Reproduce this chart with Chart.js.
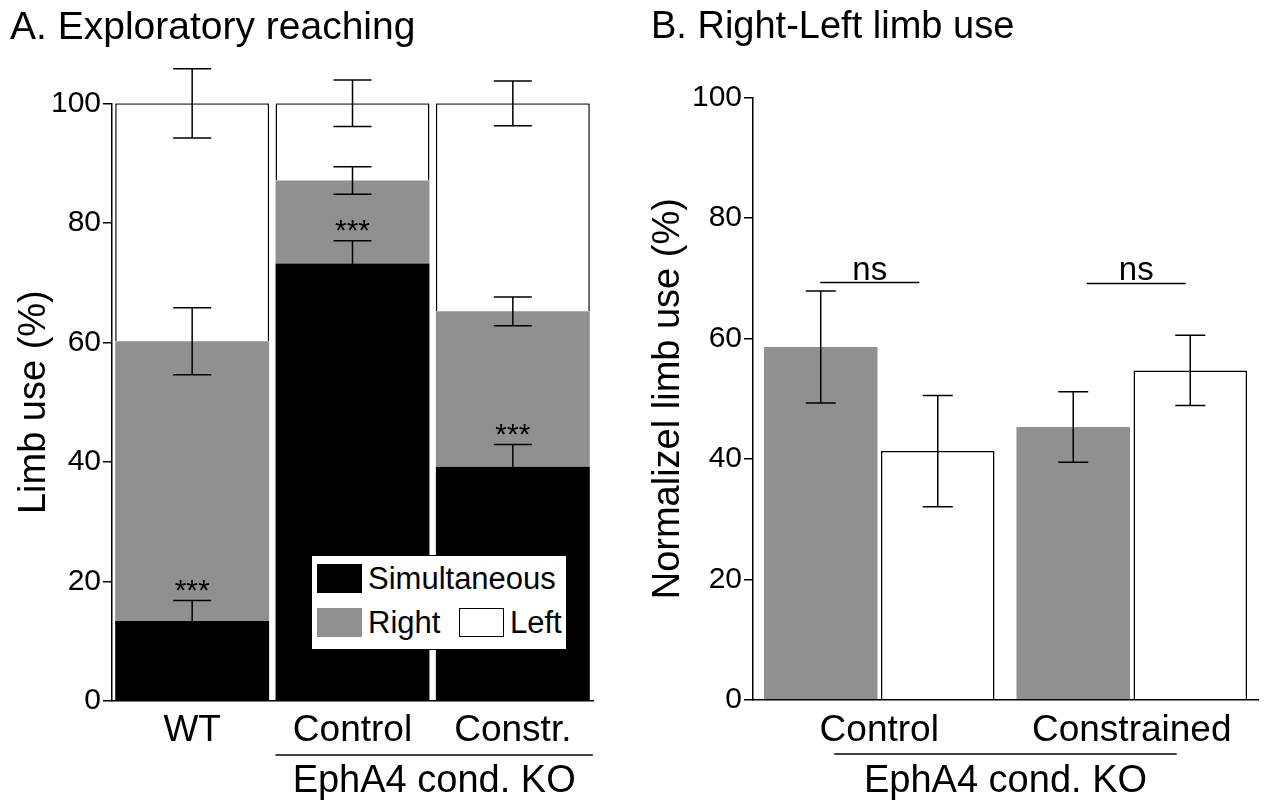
<!DOCTYPE html>
<html>
<head>
<meta charset="utf-8">
<script src="https://cdn.jsdelivr.net/npm/chart.js@4.4.1/dist/chart.umd.min.js"></script>
<style>
  body { margin: 0; background: #fff; }
  #wrap { position: relative; width: 1265px; height: 803px; }
  canvas { position: absolute; top: 0; }
  #chartA { left: 0; }
  #chartB { left: 630px; }
  #legendA {
    position: absolute; left: 311px; top: 555px; width: 254px; height: 93px;
    border: 1.5px solid #000; background: #fff;
    font-family: 'Liberation Sans', Arial, sans-serif; font-size: 31px; color: #000;
  }
  #legendA .item { position: absolute; height: 29px; line-height: 29px; white-space: nowrap; }
  #legendA .sw { position: absolute; left: 0; top: 0; width: 45px; height: 29px; box-sizing: border-box; }
  #legendA .lab { position: absolute; left: 51px; top: 0; }
</style>
</head>
<body>
<div id="wrap">
  <canvas id="chartA" width="630" height="803"></canvas>
  <canvas id="chartB" width="635" height="803"></canvas>
  <div id="legendA"></div>
</div>
<script>
// panel A - exploratory reaching (stacked %)
const groupsA = ['WT', 'Control', 'Constr.']
const simultaneous = [13.4, 73.2, 39.2]
const rightA = [46.8, 13.9, 26.0]
const leftA = [39.8, 12.9, 34.8]
const simErr = [3.4, 3.8, 3.7]
const rightErrA = [5.6, 2.3, 2.4]
const leftErrA = [5.8, 3.9, 3.75]
const starsA = ['***', '***', '***']

// panel B - normalized right/left use
const groupsB = ['Control', 'Constrained']
const rightB = [58.6, 45.3]
const leftB = [41.3, 54.7]
const rightErrB = [9.3, 5.85]
const leftErrB = [9.25, 5.85]
const nsLevel = [69.3, 69.15]

const FONT = "'Liberation Sans', Arial, sans-serif"
const GREY = '#909090'

Chart.defaults.font.family = FONT
Chart.defaults.color = '#000'

// error bars + stars on top of each bar
const errorBars = {
    id: 'errorBars',
    afterDatasetsDraw(chart, args, opts) {
        const ctx = chart.ctx
        const y = chart.scales.y
        const stacked = !!chart.options.scales.y.stacked
        chart.data.datasets.forEach((ds, i) => {
            if (!ds.errors) return
            const meta = chart.getDatasetMeta(i)
            meta.data.forEach((el, j) => {
                let top = ds.data[j]
                if (stacked) {
                    top = 0
                    for (let k = 0; k <= i; k++) top += chart.data.datasets[k].data[j]
                }
                const e = ds.errors[j]
                const yHi = y.getPixelForValue(top + e)
                const yLo = y.getPixelForValue(top - e)
                const half = opts.capWidth / 2
                ctx.save()
                ctx.strokeStyle = '#000'
                ctx.lineWidth = 1.5
                ctx.beginPath()
                ctx.moveTo(el.x, yHi); ctx.lineTo(el.x, yLo)
                ctx.moveTo(el.x - half, yHi); ctx.lineTo(el.x + half, yHi)
                ctx.moveTo(el.x - half, yLo); ctx.lineTo(el.x + half, yLo)
                ctx.stroke()
                if (ds.stars && ds.stars[j]) {
                    ctx.fillStyle = '#000'
                    ctx.font = '30px ' + FONT
                    ctx.textAlign = 'center'
                    ctx.textBaseline = 'alphabetic'
                    ctx.fillText(ds.stars[j], el.x, yHi - 1)
                }
                ctx.restore()
            })
        })
    }
}

// group line under the x labels + "ns" marks
const annotations = {
    id: 'annotations',
    afterDraw(chart, args, opts) {
        const ctx = chart.ctx
        const x = chart.scales.x
        const y = chart.scales.y
        ctx.save()
        ctx.strokeStyle = '#000'
        ctx.fillStyle = '#000'
        ctx.lineWidth = 1.5
        if (opts.group) {
            const g = opts.group
            const x0 = x.getPixelForValue(g.from) + g.offFrom
            const x1 = x.getPixelForValue(g.to) + g.offTo
            ctx.beginPath(); ctx.moveTo(x0, g.lineY); ctx.lineTo(x1, g.lineY); ctx.stroke()
            ctx.font = '38px ' + FONT
            ctx.textAlign = 'center'
            ctx.textBaseline = 'middle'
            ctx.fillText(g.text, (x0 + x1) / 2, g.textY)
        }
        if (opts.ns) {
            opts.ns.levels.forEach((v, j) => {
                const cx = x.getPixelForValue(j)
                const yy = y.getPixelForValue(v)
                const x0 = cx + opts.ns.spans[j][0]
                const x1 = cx + opts.ns.spans[j][1]
                ctx.beginPath(); ctx.moveTo(x0, yy); ctx.lineTo(x1, yy); ctx.stroke()
                ctx.font = '33px ' + FONT
                ctx.textAlign = 'center'
                ctx.textBaseline = 'alphabetic'
                ctx.fillText('ns', (x0 + x1) / 2, yy - 3)
            })
        }
        ctx.restore()
    }
}

function axisY(title, width, titlePad) {
    return {
        min: 0, max: 100,
        ticks: {stepSize: 20, font: {size: 30}, padding: 2, color: '#000'},
        grid: {drawOnChartArea: false, drawTicks: true, tickLength: 9, color: '#000', lineWidth: 1.5},
        border: {color: '#000', width: 1.5},
        title: {display: true, text: title, font: {size: 38, lineHeight: 1}, padding: {top: titlePad, bottom: 0}, color: '#000'},
        afterFit: s => { s.width = width }
    }
}
function axisX(height, pad) {
    return {
        ticks: {font: {size: 37}, padding: pad, color: '#000', maxRotation: 0, autoSkip: false},
        grid: {drawOnChartArea: false, drawTicks: false},
        border: {color: '#000', width: 1.5},
        afterFit: s => { s.height = height }
    }
}

const chartA = new Chart(document.getElementById('chartA').getContext('2d'), {
    type: 'bar',
    data: {
        labels: groupsA,
        datasets: [
            {label: 'Simultaneous', data: simultaneous, backgroundColor: '#000', borderWidth: 0, errors: simErr, stars: starsA},
            {label: 'Right', data: rightA, backgroundColor: GREY, borderWidth: 0, errors: rightErrA},
            {label: 'Left', data: leftA, backgroundColor: '#fff', borderColor: '#000', borderWidth: 1.5, errors: leftErrA}
        ]
    },
    options: {
        responsive: false,
        animation: false,
        layout: {padding: {left: 10, right: 37, top: 0, bottom: 0}},
        datasets: {bar: {barPercentage: 0.96, categoryPercentage: 1}},
        scales: {
            x: Object.assign(axisX(102, 8), {stacked: true}),
            y: Object.assign(axisY('Limb use (%)', 102, 6), {stacked: true})
        },
        plugins: {
            legend: {display: false},
            tooltip: {enabled: false},
            title: {display: true, text: 'A. Exploratory reaching', align: 'start', color: '#000',
                font: {size: 39, weight: 'normal'}, padding: {top: 5, bottom: 51.5}},
            errorBars: {capWidth: 38},
            annotations: {group: {from: 1, to: 2, offFrom: -77, offTo: 80, lineY: 755, textY: 782, text: 'EphA4 cond. KO'}}
        }
    },
    plugins: [errorBars, annotations]
})

const chartB = new Chart(document.getElementById('chartB').getContext('2d'), {
    type: 'bar',
    data: {
        labels: groupsB,
        datasets: [
            {label: 'Right', data: rightB, backgroundColor: GREY, borderWidth: 0, errors: rightErrB},
            {label: 'Left', data: leftB, backgroundColor: '#fff', borderColor: '#000', borderWidth: 1.5, errors: leftErrB}
        ]
    },
    options: {
        responsive: false,
        animation: false,
        layout: {padding: {left: 21, right: 7, top: 0, bottom: 0}},
        datasets: {bar: {barPercentage: 0.97, categoryPercentage: 0.927}},
        scales: {
            x: axisX(103.3, 9),
            y: axisY('Normalizel limb use (%)', 102, -1)
        },
        plugins: {
            legend: {display: false},
            tooltip: {enabled: false},
            title: {display: true, text: 'B. Right-Left limb use', align: 'start', color: '#000',
                font: {size: 38, weight: 'normal'}, padding: {top: 4.7, bottom: 47.4}},
            errorBars: {capWidth: 30},
            annotations: {
                group: {from: 0, to: 1, offFrom: -45, offTo: 45, lineY: 754, textY: 782, text: 'EphA4 cond. KO'},
                ns: {levels: nsLevel, spans: [[-59, 40], [-45, 54]]}
            }
        }
    },
    plugins: [errorBars, annotations]
})

// legend box for panel A, built from the dataset list
const legendPos = {Simultaneous: [5, 8], Right: [5, 52], Left: [147, 52]}
const legendEl = document.getElementById('legendA')
chartA.data.datasets.forEach(ds => {
    const [lx, ly] = legendPos[ds.label]
    const item = document.createElement('div')
    item.className = 'item'
    item.style.left = lx + 'px'
    item.style.top = ly + 'px'
    const sw = document.createElement('div')
    sw.className = 'sw'
    sw.style.background = ds.backgroundColor
    if (ds.borderWidth) sw.style.border = '1.5px solid ' + ds.borderColor
    const lab = document.createElement('span')
    lab.className = 'lab'
    lab.textContent = ds.label
    item.appendChild(sw)
    item.appendChild(lab)
    legendEl.appendChild(item)
})
</script>
</body>
</html>
